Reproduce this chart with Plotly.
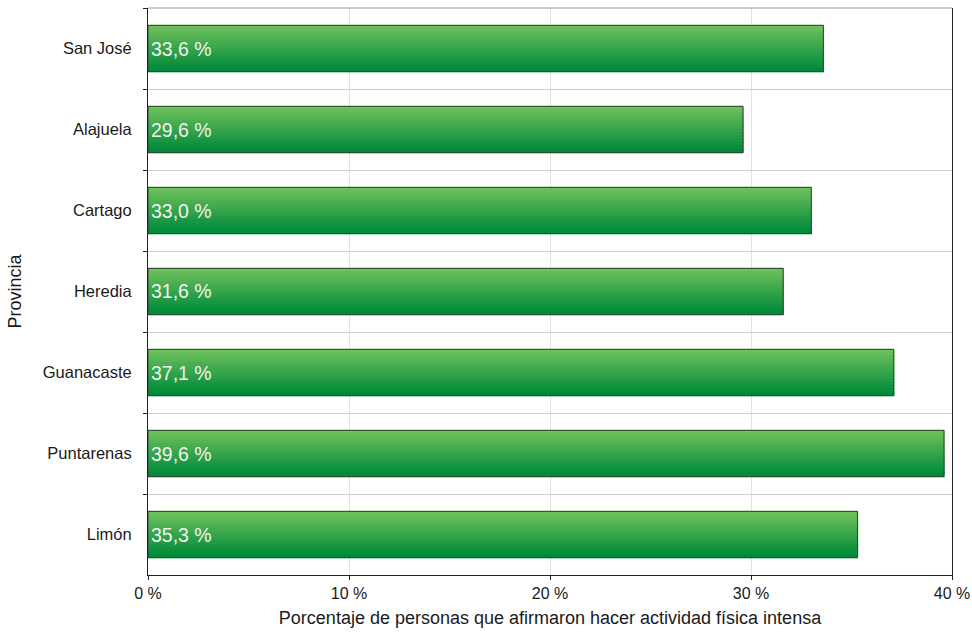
import plotly.graph_objects as go

# Provinces and share of people reporting intense physical activity (%)
provincias = ["San José", "Alajuela", "Cartago", "Heredia", "Guanacaste", "Puntarenas", "Limón"]
porcentajes = [33.6, 29.6, 33.0, 31.6, 37.1, 39.6, 35.3]
x_ticks = [0, 10, 20, 30, 40]
x_tick_labels = ["0 %", "10 %", "20 %", "30 %", "40 %"]

FONT = "Liberation Sans, Arial, sans-serif"
BAR_W = 0.57
N_SLICES = 14
TOP_RGB = (110, 192, 92)
BOT_RGB = (0, 138, 58)

labels = [f"{v:.1f} %".replace(".", ",") for v in porcentajes]

fig = go.Figure()

# Vertical gradient: stack thin overlaid bar slices from light (top) to dark (bottom)
step = BAR_W / N_SLICES
for i in range(N_SLICES):
    t = i / (N_SLICES - 1)
    r, g, b = (round(a + (c - a) * t) for a, c in zip(TOP_RGB, BOT_RGB))
    col = f"rgb({r},{g},{b})"
    fig.add_trace(go.Bar(
        x=porcentajes, y=provincias, orientation="h",
        width=step, offset=-BAR_W / 2 + i * step,
        marker=dict(color=col, line=dict(color=col, width=1.2)),
        hoverinfo="skip", showlegend=False,
    ))

# Outline and value labels
fig.add_trace(go.Bar(
    x=porcentajes, y=provincias, orientation="h",
    width=BAR_W, offset=-BAR_W / 2,
    marker=dict(color="rgba(0,0,0,0)", line=dict(color="#2f4a32", width=1)),
    text=labels, textposition="inside", insidetextanchor="start",
    textfont=dict(family=FONT, size=19.5, color="#f2f2f2"),
    cliponaxis=False, showlegend=False,
    hovertemplate="%{y}: %{x:.1f} %<extra></extra>",
))

fig.update_layout(
    width=972, height=635,
    margin=dict(l=148, r=20, t=8, b=60),
    paper_bgcolor="white", plot_bgcolor="white",
    barmode="overlay",
    font=dict(family=FONT, size=16.5, color="#1a1a1a"),
    uniformtext=dict(minsize=19, mode="show"),
    xaxis=dict(
        range=[0, 40], tickvals=x_ticks, ticktext=x_tick_labels,
        showgrid=True, gridcolor="#e2e2e2", gridwidth=1,
        zeroline=False, showline=True, linecolor="#222", linewidth=1,
        ticks="outside", ticklen=4, tickcolor="#222",
        tickfont=dict(size=16), automargin=False, ticklabeloverflow="allow",
        title=dict(text="Porcentaje de personas que afirmaron hacer actividad física intensa",
                   font=dict(size=18), standoff=10),
    ),
    yaxis=dict(
        autorange="reversed", type="category",
        tickson="boundaries", showgrid=True, gridcolor="#cfcfcf", gridwidth=1,
        showline=True, linecolor="#222", linewidth=1, mirror=True,
        ticks="outside", ticklen=4, tickcolor="#222",
        tickfont=dict(size=16.5), ticklabelstandoff=12, automargin=False,
        title=dict(text="Provincia", font=dict(size=18), standoff=16),
    ),
    shapes=[
        dict(type="line", xref="paper", yref="paper", x0=0, x1=1, y0=1, y1=1,
             line=dict(color="#9a9a9a", width=1)),
    ],
)

fig.write_html("out.html")
